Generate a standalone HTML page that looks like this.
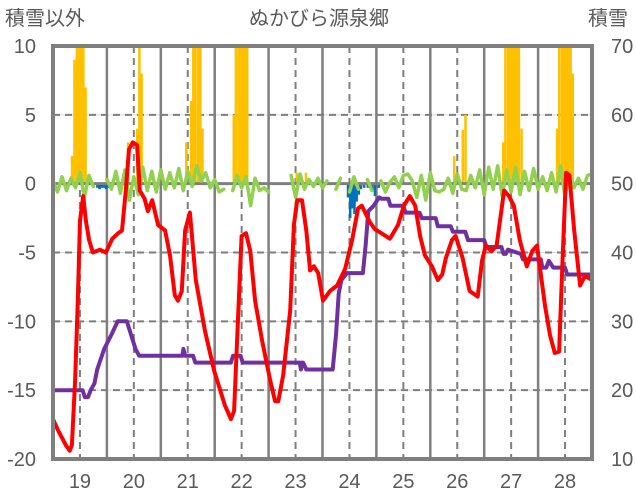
<!DOCTYPE html>
<html><head><meta charset="utf-8">
<style>
body{margin:0;background:#fff;}
svg{display:block;font-family:"Liberation Sans","Noto Sans CJK JP",sans-serif;}
</style></head>
<body>
<svg id="chart" width="636" height="501" viewBox="0 0 636 501" xmlns="http://www.w3.org/2000/svg">
<text x="5" y="25" font-size="20" fill="#595959">積雪以外</text>
<text x="319" y="25" font-size="20" fill="#595959" text-anchor="middle">ぬかびら源泉郷</text>
<text x="588" y="25" font-size="20" fill="#595959">積雪</text>
<defs><clipPath id="plotclip"><rect x="53" y="46" width="539" height="413"/></clipPath></defs>
<g id="grid"></g>
<g id="bars" clip-path="url(#plotclip)"></g>
<g id="lines" clip-path="url(#plotclip)"></g>
<g id="axes"></g>
</svg>
<script>
const leftTicks=[10,5,0,-5,-10,-15,-20];
const rightTicks=[70,60,50,40,30,20,10];
const dayLabels=[19,20,21,22,23,24,25,26,27,28];
const snowT=[18.83,18.875,18.92,18.96,19.0,19.04,19.08, 19.87,20.04,20.08,20.12, 20.95,21.04,21.08,21.12,21.17,21.21,21.25, 21.83,21.87,21.92,21.96,22.0,22.04,22.08, 23.0,23.17, 25.92,26.08,26.13, 26.83,26.87,26.92,26.96,27.0,27.04,27.08,27.12,27.17, 27.83,27.87,27.92,27.96,28.0,28.04,28.08,28.12];
const snowV=[54,68,75,75,75,75,64, 56,58,75,66, 56,62,75,75,75,75,58, 60,75,75,75,75,75,75, 51.6,51.6, 54,57.8,60, 56,75,75,75,75,75,75,75,58, 58,75,75,75,75,75,75,66];
const blueT=[19.3,19.34,19.38,19.42,19.46,19.5, 23.95,23.99,24.03,24.07,24.11,24.15,24.19,24.25,24.32,24.4,24.45,24.52,24.9];
const blueV=[-0.3,-0.4,-0.3,-0.3,-0.4,-0.3, -1.0,-2.5,-1.8,-2.2,-1.3,-0.8,-0.4,-0.3,-0.3,-0.5,-0.9,-0.3,-0.3];
const redT=[18.5,18.59,18.74,18.81,18.85,18.91,18.96,19.0,19.06,19.11,19.17,19.24,19.37,19.48,19.6,19.71,19.78,19.85,19.91,19.98,20.06,20.11,20.2,20.26,20.34,20.45,20.58,20.67,20.76,20.82,20.89,20.95,21.04,21.15,21.32,21.49,21.69,21.8,21.86,21.93,22.0,22.08,22.16,22.25,22.38,22.53,22.62,22.68,22.77,22.9,22.97,23.03,23.12,23.2,23.27,23.34,23.42,23.51,23.64,23.77,23.92,24.05,24.16,24.23,24.38,24.47,24.75,24.9,25.01,25.12,25.22,25.31,25.4,25.53,25.64,25.72,25.79,25.9,25.97,26.1,26.23,26.38,26.46,26.53,26.64,26.73,26.87,26.96,27.05,27.16,27.29,27.39,27.48,27.54,27.63,27.72,27.81,27.89,27.96,28.02,28.08,28.17,28.28,28.37,28.5];
const redV=[-17.1,-17.9,-19.0,-19.4,-19.0,-14.3,-8.5,-2.7,-0.9,-2.7,-4.1,-5.0,-4.8,-5.0,-4.0,-3.6,-3.4,-0.5,2.5,3.0,2.8,-0.5,-1.1,-2.0,-1.2,-3.0,-3.4,-5.2,-8.1,-8.5,-7.8,-3.4,-2.1,-7.0,-10.7,-13.6,-16.1,-17.1,-16.5,-10.0,-3.8,-3.6,-4.9,-8.5,-11.4,-14.3,-15.8,-15.8,-13.9,-9.2,-3.0,-1.2,-1.2,-3.4,-6.3,-6.0,-6.5,-8.5,-7.8,-7.4,-6.2,-4.1,-1.8,-1.6,-2.8,-3.3,-4.0,-3.0,-1.6,-0.9,-1.6,-3.8,-5.2,-6.0,-7.0,-6.6,-5.4,-4.1,-3.8,-5.4,-7.8,-8.2,-5.6,-4.5,-4.9,-4.5,-0.5,-0.9,-1.6,-4.1,-6.0,-4.9,-4.5,-6.3,-8.9,-11.0,-12.3,-12.2,-4.9,0.8,0.6,-3.4,-7.4,-6.7,-7.0];
const purT=[18.5,19.05,19.09,19.15,19.2,19.27,19.32,19.45,19.58,19.7,19.78,19.87,19.95,20.03,20.1,20.9,20.92,20.95,21.1,21.14,21.8,21.84,21.98,22.02,23.08,23.1,23.12,23.14,23.2,23.69,23.75,23.8,23.85,23.95,24.25,24.3,24.35,24.45,24.55,24.6,24.72,24.76,25.0,25.04,25.3,25.34,25.6,25.64,25.88,25.92,26.15,26.2,26.5,26.54,26.82,26.86,26.9,26.94,27.18,27.22,27.55,27.58,27.65,27.7,27.78,27.84,28.0,28.04,28.5];
const purV=[-15,-15,-15.5,-15.5,-15,-14.5,-13.5,-12,-11,-10,-10,-10,-11,-12,-12.5,-12.5,-12,-12.5,-12.5,-13,-13,-12.5,-12.5,-13,-13,-13.5,-13,-13,-13.5,-13.5,-11,-8,-7,-6.5,-6.5,-4.5,-2,-1.6,-1.0,-1.1,-1.1,-1.6,-1.6,-2.1,-2.1,-2.5,-2.5,-3.1,-3.1,-3.5,-3.5,-4.1,-4.1,-4.6,-4.6,-5.1,-5.1,-4.8,-5.1,-5.5,-5.5,-6.1,-6.1,-5.6,-6.1,-6.1,-6.1,-6.6,-6.6];
const greenV=[0.2,-0.6,0.5,-0.5,0.4,-0.3,0.8,-1.0,0.6,-0.2,null,null,
0.3,-0.4,0.9,-0.7,1.0,-1.2,0.5,-0.8,1.2,-0.5,0.9,-0.6,
1.0,-0.4,0.8,-0.3,1.1,-0.5,0.9,-0.2,1.3,0.2,0.8,-0.3,
0.3,-0.6,-0.4,null,-0.5,0.6,-0.3,0.5,-1.6,0.4,-0.5,-0.3,
-0.6,null,null,0.1,null,0.6,-1.0,0.7,-0.4,0.3,-0.2,0.4,
-0.3,0.2,null,-0.4,0.4,null,-0.6,0.5,-0.4,null,0.3,-0.5,
null,0.2,-0.6,0.1,0.5,-0.3,0.6,0.7,0.2,-1.0,0.6,-1.2,
0.8,-0.5,-0.6,-0.4,0.4,-0.7,0.7,-0.4,-0.5,0.6,-0.3,1.0,
-0.8,1.2,-0.4,1.3,-0.9,1.0,-0.6,1.2,-0.8,0.9,-0.5,1.1,
-0.4,0.5,-0.5,0.8,-0.6,1.3,-1.0,0.8,-0.3,0.4,-0.4,0.6,0.7];
const greenStartT=18.5, greenStepT=1/12;

const NS="http://www.w3.org/2000/svg";
const X0=53,X1=592,Y0=46,Y1=459;
const xS=t=>X0+(t-18.5)/10*(X1-X0);
const yL=v=>Y1-(v+20)/30*(Y1-Y0);
const yR=v=>Y1-(v-10)/60*(Y1-Y0);
function mk(tag,attrs,parent){const e=document.createElementNS(NS,tag);for(const k in attrs)e.setAttribute(k,attrs[k]);parent.appendChild(e);return e;}
const grid=document.getElementById('grid'),bars=document.getElementById('bars'),lines=document.getElementById('lines'),axes=document.getElementById('axes');
leftTicks.forEach(v=>{
  if(v===10||v===-20||v===0)return;
  const y=yL(v);
  const l=mk('line',{x1:X0,x2:X1,y1:y,y2:y,stroke:'#d9d9d9','stroke-width':1},grid);
  
  
  const d=mk('line',{x1:X0,x2:X1,y1:y,y2:y,stroke:'#7f7f7f','stroke-width':2,'stroke-dasharray':'7,5'},grid);
  
  
});
dayLabels.forEach(d=>{
  const x=xS(d);
  const l=mk('line',{x1:x,x2:x,y1:Y0,y2:Y1,stroke:'#7f7f7f','stroke-width':2,'stroke-dasharray':'7,5'},grid);
  
  
  const xm=xS(d+0.5);
  if(d<28){const s=mk('line',{x1:xm,x2:xm,y1:Y0,y2:Y1,stroke:'#7f7f7f','stroke-width':2.5},grid);
  
  }
  const t=mk('text',{x:x,y:488,'font-size':20,fill:'#595959','text-anchor':'middle'},axes);
  t.textContent=d;
  
  
});
const bw=(X1-X0)/240;
snowT.forEach((t,i)=>{
  const y=yR(snowV[i]),y0=yR(50);
  const r=mk('rect',{x:xS(t),y:y,width:bw+0.3,height:y0-y,fill:'#ffc000'},bars);
  
  
});
blueT.forEach((t,i)=>{
  const y0=yL(0),y=yL(blueV[i]);
  const r=mk('rect',{x:xS(t),y:y0,width:bw+0.3,height:y-y0,fill:'#0070c0'},bars);
  
  
});
const zl=mk('line',{x1:X0,x2:X1,y1:yL(0),y2:yL(0),stroke:'#7f7f7f','stroke-width':3},bars);


let gd='',pen=false;
greenV.forEach((v,i)=>{
  if(v===null){pen=false;return;}
  const x=xS(greenStartT+i*greenStepT),y=yL(v);
  gd+=(pen?'L':'M')+x.toFixed(1)+' '+y.toFixed(1);pen=true;
});
const gp=mk('path',{d:gd,fill:'none',stroke:'#92d050','stroke-width':3.5,'stroke-linejoin':'round','stroke-linecap':'round'},lines);


function poly(T,V,color,name){
  const d=T.map((t,i)=>(i?'L':'M')+xS(t).toFixed(1)+' '+yL(V[i]).toFixed(1)).join('');
  const p=mk('path',{d:d,fill:'none',stroke:color,'stroke-width':4,'stroke-linejoin':'round'},lines);
  
  
}
poly(purT,purV,'#7030a0','purple-series');
poly(redT,redV,'#ff0000','red-series');
const fr=mk('rect',{x:X0,y:Y0,width:X1-X0,height:Y1-Y0,fill:'none',stroke:'#7f7f7f','stroke-width':4},axes);


leftTicks.forEach(v=>{
  const t=mk('text',{x:36,y:yL(v)+7,'font-size':20,fill:'#595959','text-anchor':'end'},axes);
  t.textContent=v;
  
  
});
rightTicks.forEach(v=>{
  const t=mk('text',{x:611,y:yR(v)+7,'font-size':20,fill:'#595959','text-anchor':'start'},axes);
  t.textContent=v;
  
  
});
</script>
</body></html>
